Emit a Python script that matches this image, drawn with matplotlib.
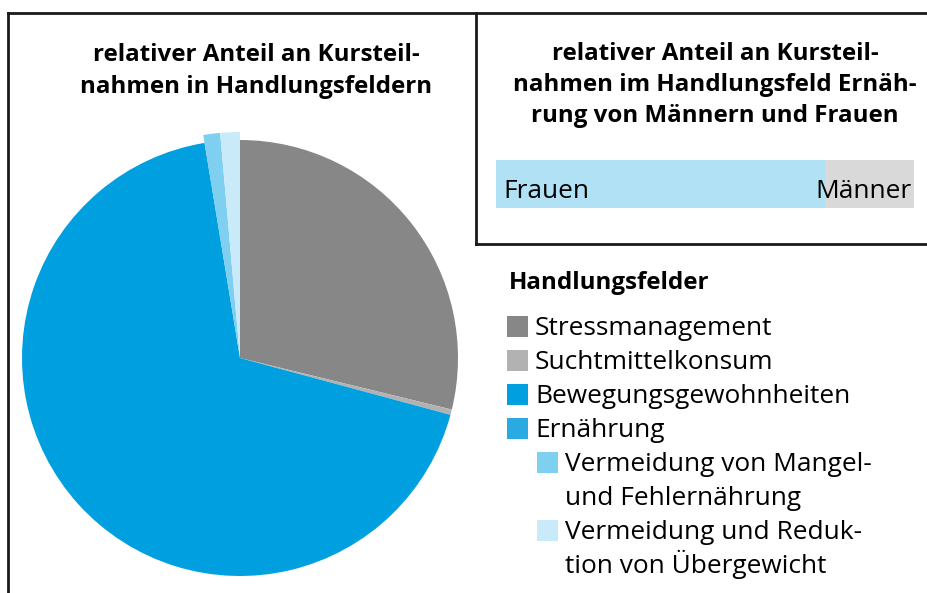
import matplotlib.pyplot as plt
from matplotlib.patches import Rectangle

plt.rcParams['font.family'] = ['Open Sans', 'DejaVu Sans']

# pie data (share of course participations in %)
fields = ['Stressmanagement', 'Suchtmittelkonsum', 'Bewegungsgewohnheiten',
          'Vermeidung von Mangel-\nund Fehlernährung',
          'Vermeidung und Reduk-\ntion von Übergewicht']
shares = [28.8, 0.4, 68.2, 1.2, 1.4]
pie_colors = ['#878787', '#b2b2b2', '#009fe0', '#7fcff0', '#c9eaf8']

# legend entries: label, colour, indent level
legend_labels = ['Stressmanagement', 'Suchtmittelkonsum', 'Bewegungsgewohnheiten',
                 'Ernährung', fields[3], fields[4]]
legend_colors = ['#878787', '#b2b2b2', '#009fe0', '#29abe2', '#7fcff0', '#c9eaf8']
legend_indent = [0, 0, 0, 0, 1, 1]

# bar data (Ernährung: Frauen vs. Männer in %)
genders = ['Frauen', 'Männer']
gender_shares = [78.7, 21.3]
gender_colors = ['#b1e1f4', '#d9d9da']

W, H = 927, 593
fig = plt.figure(figsize=(W / 100, H / 100), dpi=100)

# stacked bar Frauen / Männer (drawn first so texts sit on top)
bax = fig.add_axes([496 / W, 1 - 208 / H, 418 / W, 48 / H])
left = 0
for g, v, c in zip(genders, gender_shares, gender_colors):
    bax.barh(0, v, left=left, color=c, height=1)
    left += v
bax.set_xlim(0, 100)
bax.set_ylim(-0.5, 0.5)
bax.axis('off')

# background axes in pixel coordinates (y up)
ax = fig.add_axes([0, 0, 1, 1])
ax.patch.set_alpha(0)

# frame lines
lw = 2
ax.plot([8, 926], [H - 13, H - 13], color='#1a1a1a', lw=lw)
ax.plot([8, 8], [H - 13, 0], color='#1a1a1a', lw=lw)
ax.plot([476, 476], [H - 13, H - 244], color='#1a1a1a', lw=lw)
ax.plot([476, 926], [H - 244, H - 244], color='#1a1a1a', lw=lw)

# pie
wedges, _ = ax.pie(shares, colors=pie_colors, startangle=90, counterclock=False,
                   center=(240, H - 358), radius=218, frame=True,
                   wedgeprops=dict(linewidth=0))
for w in wedges[3:]:
    w.set_radius(226)
ax.set_xlim(0, W)
ax.set_ylim(0, H)
ax.set_aspect('auto')
ax.axis('off')

# titles
tfs = 17.4
ax.text(256, H - 71, 'relativer Anteil an Kursteil-\nnahmen in Handlungsfeldern',
        ha='center', va='center', fontsize=tfs, fontweight='bold', linespacing=1.39)
ax.text(715, H - 85, 'relativer Anteil an Kursteil-\nnahmen im Handlungsfeld Ernäh-\nrung von Männern und Frauen',
        ha='center', va='center', fontsize=tfs, fontweight='bold', linespacing=1.39)

fs = 18.9
# bar labels
ax.text(503, H - 191, genders[0], ha='left', va='center', fontsize=fs)
ax.text(912, H - 191, genders[1], ha='right', va='center', fontsize=fs)

# legend
ax.text(509, H - 283, 'Handlungsfelder', ha='left', va='center',
        fontsize=tfs, fontweight='bold')
row_y = [327, 361, 395, 429, 463, 531]
for lab, col, ind, y in zip(legend_labels, legend_colors, legend_indent, row_y):
    x0 = 507 + ind * 30
    ax.add_patch(Rectangle((x0, H - y - 10), 21, 21, color=col, lw=0))
    for i, line in enumerate(lab.split('\n')):
        ax.text(x0 + 28, H - (y + 8 + 34 * i), line, ha='left', va='baseline',
                fontsize=fs)

fig.savefig('out.png', dpi=100)
